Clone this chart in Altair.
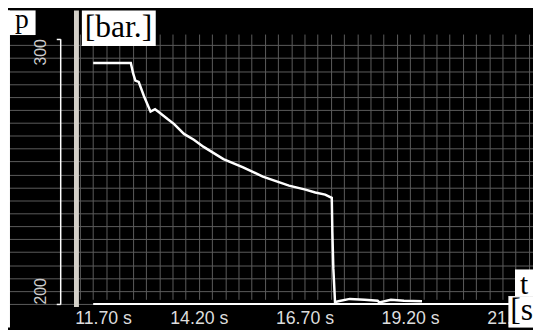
import altair as alt
import pandas as pd

# ---- data ----
t_values = [11.700, 12.590, 12.644, 12.698, 12.777, 12.900, 13.057, 13.164, 13.266,
            13.460, 13.616, 13.849, 14.082, 14.315, 14.782, 15.248, 15.714, 16.334,
            16.723, 16.956, 17.189, 17.346, 17.360, 17.383, 17.423, 17.500, 17.773,
            18.122, 18.432, 18.472, 18.744, 19.054, 19.481]
p_values = [290.8, 290.8, 287.0, 284.2, 283.7, 278.4, 272.5, 273.4, 272.2,
            269.7, 267.8, 264.1, 261.9, 259.2, 254.6, 251.5, 248.0, 244.6,
            243.1, 242.0, 241.2, 240.0, 227.0, 213.4, 200.7, 201.0, 201.9,
            201.6, 201.2, 200.6, 201.6, 201.2, 201.0]
x_tick_values = [11.70, 14.20, 16.70, 19.20, 21.70]
y_tick_values = [200, 300]
y_label = "p"
y_unit = "[bar.]"
x_label = "t"
x_unit = "[s"

df = pd.DataFrame({"t": t_values, "p": p_values})

W, H = 533, 322
x_scale = alt.Scale(domain=[9.684, 22.108], nice=False, zero=False)
y_scale = alt.Scale(domain=[200, 300], range=[298, 28.7], nice=False, zero=False)

grid_x = [x_tick_values[0] + k * 0.3125 for k in range(-1, 34)]
grid_y = [y_tick_values[0] + k * (y_tick_values[1] - y_tick_values[0]) / 20.5 for k in range(21)]

GRID = "#5c5c5c"

line = alt.Chart(df).mark_line(color="white", strokeWidth=2.5).encode(
    x=alt.X("t:Q", scale=x_scale,
            axis=alt.Axis(values=grid_x, grid=True, gridColor=GRID, gridWidth=1,
                          labels=False, ticks=False, domain=False, title=None,
                          orient="bottom")),
    y=alt.Y("p:Q", scale=y_scale,
            axis=alt.Axis(values=grid_y, grid=True, gridColor=GRID, gridWidth=1,
                          labels=False, ticks=False, domain=False, title=None,
                          orient="left")),
)

axis_df = pd.DataFrame({"t0": [min(x_tick_values)], "t1": [max(x_tick_values)],
                        "p": [min(y_tick_values)]})
axis_line = alt.Chart(axis_df).mark_rule(color="white", strokeWidth=2).encode(
    x=alt.X("t0:Q", scale=x_scale,
            axis=alt.Axis(values=x_tick_values, grid=False, domain=False, ticks=False,
                          tickSize=0, title=None, orient="bottom", offset=-24,
                          labelExpr="format(datum.value, '.2f') + ' s'",
                          labelFont="Liberation Sans", labelFontSize=18,
                          labelColor="#dddddd", labelBaseline="alphabetic",
                          labelPadding=20, labelFlush=False, labelOverlap=False,
                          labelOffset={"condition": {"test": "datum.value < 12", "value": 10},
                                       "value": 0})),
    x2="t1:Q",
    y=alt.Y("p:Q", scale=y_scale,
            axis=alt.Axis(values=y_tick_values, grid=False, domain=True,
                          domainColor="white", domainWidth=1.5, ticks=True,
                          tickColor="white", tickSize=4, tickWidth=1.5,
                          title=None, orient="left", offset=-53,
                          labelAngle=270, labelBaseline="alphabetic",
                          labelAlign={"condition": {"test": "datum.value >= 300", "value": "right"},
                                      "value": "left"},
                          labelPadding=11, labelFont="Liberation Sans", labelFontSize=16,
                          labelColor="#cccccc", labelFlush=False, labelOverlap=False,
                          format="d")),
)

one = pd.DataFrame({"a": [0]})


def box(x0, x1, y0, y1, color):
    return alt.Chart(one).mark_rect(color=color).encode(
        x=alt.value(x0), x2=alt.value(x1), y=alt.value(y0), y2=alt.value(y1))


def label(text, x, y, size, align="left"):
    return alt.Chart(one).mark_text(text=text, align=align, baseline="alphabetic",
                                    font="Liberation Serif", fontSize=size,
                                    color="black").encode(x=alt.value(x), y=alt.value(y))


chart = alt.layer(
    box(0, 2, 0, H, "white"),
    box(67, 72, 0, 301, "#d4d0c8"),
    axis_line,
    line,
    box(0, 28, 0, 25, "white"),
    label(y_label, 7, 18, 28),
    box(75, 150, 0, 36, "white"),
    label(y_unit, 78, 27, 32),
    box(514.7, W, 263, 290, "white"),
    label(x_label, 524, 288, 30, "center"),
    box(508, W, 290, H, "white"),
    label(x_unit, 510, 314, 32),
).resolve_axis(x="independent", y="independent").properties(
    width=W, height=H, background="black", padding=0,
    autosize=alt.AutoSizeParams(type="none"),
).configure_view(stroke=None, fill="black")

chart.save("out.html", embed_options={"renderer": "svg", "actions": False})
